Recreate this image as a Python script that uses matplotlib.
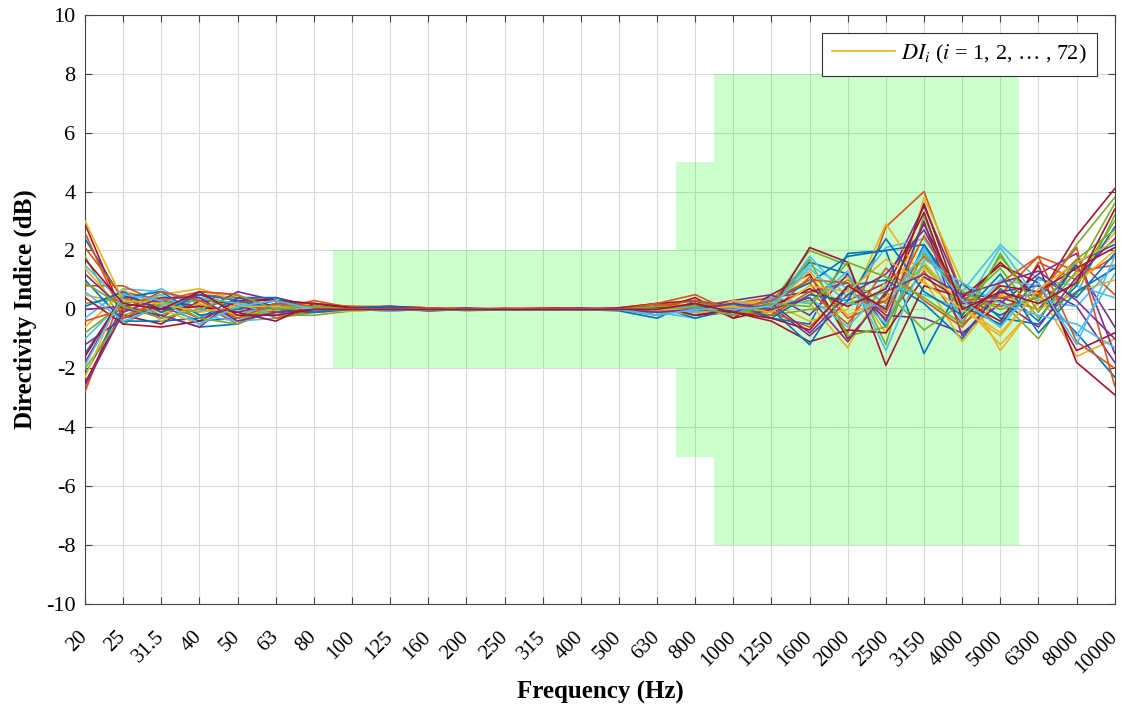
import matplotlib
matplotlib.use("Agg")
from matplotlib import pyplot as plt
from matplotlib import transforms

plt.rcParams['font.family'] = ['Liberation Serif', 'DejaVu Serif']
plt.rcParams['mathtext.fontset'] = 'stix'
plt.rcParams['axes.unicode_minus'] = False

freq_labels = ["20", "25", "31.5", "40", "50", "63", "80", "100", "125", "160", "200",
               "250", "315", "400", "500", "630", "800", "1000", "1250", "1600", "2000",
               "2500", "3150", "4000", "5000", "6300", "8000", "10000"]

# tolerance mask: band edges (in band index units) and half-heights in dB
mask_edges = [6.5, 15.5, 16.5, 24.5]
mask_limits = [2, 5, 8]

# directivity index curves (dB) (a representative subset of the 72)
di_curves = [
    [2.4, 0.3, 0.1, -0.4, -0.3, 0.1, 0.0, 0.05, 0.05, 0.0, 0.0, 0.02, 0.0, 0.05, 0.0, -0.1, 0.2, -0.1, 0.3, 1.6, 1.2, -0.6, 2.2, 0.4, -0.2, 0.5, -0.8, -2.3],
    [-2.8, 0.6, 0.3, 0.5, 0.4, 0.3, 0.2, 0.1, 0.1, 0.05, 0.0, 0.05, 0.0, 0.0, 0.05, 0.2, -0.1, 0.2, 0.4, 0.9, -0.8, 2.8, 4.0, 0.5, -0.6, 1.6, 1.0, 1.8],
    [0.5, 0.2, 0.4, 0.0, -0.2, 0.2, 0.0, -0.05, 0.0, 0.05, 0.0, 0.0, 0.05, 0.0, 0.0, 0.1, 0.3, 0.0, -0.2, 0.5, 1.1, -0.8, 3.8, 0.9, -1.4, 0.3, 1.2, 2.6],
    [-1.8, 0.5, -0.3, 0.6, 0.5, -0.2, 0.1, 0.0, -0.05, 0.0, 0.02, 0.0, 0.0, 0.05, 0.0, -0.2, 0.1, 0.2, 0.1, -0.9, 0.3, 0.9, 3.5, 0.5, 0.4, 0.0, 1.5, -0.6],
    [1.8, -0.5, 0.2, 0.1, 0.3, -0.3, -0.1, 0.1, 0.05, 0.05, -0.05, 0.0, 0.0, 0.0, 0.05, 0.1, 0.0, -0.2, 0.2, 2.0, 1.5, -1.2, 3.2, -0.2, 1.8, 0.2, 0.5, 3.2],
    [-0.3, 0.7, 0.6, 0.2, -0.4, 0.1, 0.2, 0.0, 0.0, -0.05, 0.0, 0.02, 0.0, 0.0, 0.0, -0.1, -0.3, 0.1, 0.0, 1.8, 0.4, 2.1, 2.4, 0.6, 2.2, 1.0, 0.8, 0.4],
    [2.9, -0.2, -0.5, 0.3, 0.2, 0.4, 0.1, 0.05, 0.1, 0.0, 0.0, 0.0, 0.05, 0.05, 0.0, 0.0, 0.4, -0.3, 0.5, 1.2, -1.0, 0.5, 2.9, 0.2, 1.6, 0.4, 2.5, 4.1],
    [-2.2, 0.1, -0.2, -0.6, -0.5, 0.2, -0.1, 0.0, 0.05, 0.0, 0.0, -0.02, 0.0, 0.0, -0.05, -0.3, 0.3, 0.1, -0.3, -0.5, 1.9, 2.0, -1.5, 0.9, -0.3, -0.5, 0.8, 2.8],
    [0.8, 0.8, 0.2, -0.3, 0.1, -0.1, 0.1, 0.1, 0.0, 0.05, 0.0, 0.02, 0.05, 0.0, 0.0, 0.2, 0.1, 0.3, -0.1, -0.6, 0.7, -0.3, 1.3, -0.5, 0.5, 1.8, 1.3, 1.5],
    [1.4, -0.1, 0.5, 0.7, 0.3, 0.0, 0.2, 0.05, 0.1, 0.05, 0.05, 0.0, 0.0, 0.05, 0.05, 0.1, -0.2, 0.2, 0.3, 0.2, -1.3, 1.0, 1.6, 0.1, -0.8, 0.6, -1.6, -1.0],
    [-1.2, -0.3, 0.1, -0.1, 0.6, 0.3, 0.0, 0.0, 0.0, 0.0, 0.0, 0.0, 0.0, 0.02, 0.0, -0.1, 0.2, -0.2, 0.4, 0.6, 0.9, -0.2, -0.3, -0.8, 0.2, 1.2, 1.9, -1.5],
    [0.2, 0.4, -0.2, 0.4, 0.0, -0.2, -0.2, -0.05, 0.0, 0.0, 0.0, 0.0, -0.02, 0.0, 0.0, 0.0, 0.0, 0.1, 0.1, 0.3, 1.0, 0.2, 1.5, 0.0, 0.3, -1.0, 1.0, 3.0],
    [-1.0, 0.3, 0.7, 0.0, -0.2, 0.2, 0.1, 0.0, 0.0, 0.02, 0.0, 0.0, 0.0, 0.0, 0.0, -0.1, -0.1, 0.2, 0.2, 1.5, 0.7, -0.5, 2.1, -0.4, 1.0, 0.8, -0.9, 1.2],
    [-2.5, 0.0, 0.0, 0.5, 0.1, -0.1, -0.1, 0.0, 0.05, -0.05, 0.0, 0.0, 0.02, 0.0, 0.0, 0.05, -0.2, -0.1, -0.4, -1.1, -0.7, -0.8, 1.1, 0.3, -0.4, 1.5, -1.8, -2.9],
    [1.0, -0.4, -0.4, -0.3, 0.4, 0.4, 0.0, 0.05, 0.0, 0.0, 0.0, 0.0, 0.0, 0.0, 0.0, 0.1, -0.3, 0.0, 0.0, -1.2, 0.8, 1.0, 0.2, -1.0, 0.7, -0.4, 1.6, 2.2],
    [2.1, 0.4, -0.1, 0.2, -0.5, 0.0, 0.3, 0.05, 0.0, 0.0, 0.0, 0.0, 0.0, 0.0, 0.0, 0.0, 0.2, 0.0, -0.1, 1.1, -0.3, 0.3, 1.8, 0.6, 0.1, 0.4, 1.7, 0.5],
    [-0.6, 0.6, 0.0, -0.5, 0.2, 0.1, -0.1, -0.05, 0.05, 0.0, 0.0, 0.0, 0.0, 0.02, 0.0, 0.0, 0.0, -0.2, 0.2, -0.4, 0.0, 2.9, 1.0, -1.1, 0.5, 0.0, 0.6, 1.0],
    [0.0, 0.1, 0.3, 0.1, -0.1, 0.2, 0.1, 0.0, 0.0, 0.0, 0.05, 0.0, 0.0, 0.0, 0.05, 0.1, 0.0, 0.3, 0.5, -0.2, 1.2, -0.4, 3.0, -0.9, 0.6, 0.8, 0.1, -1.8],
    [-2.0, -0.2, 0.2, 0.3, -0.3, -0.1, 0.1, 0.0, 0.0, 0.0, 0.0, 0.0, 0.0, 0.0, 0.0, -0.2, 0.1, 0.0, -0.2, 0.0, 0.2, 0.6, -0.7, 0.2, 1.4, -0.3, 1.3, 3.6],
    [1.5, 0.2, 0.5, -0.2, -0.4, -0.3, 0.0, 0.0, -0.05, 0.0, 0.0, 0.0, 0.0, 0.0, 0.0, 0.0, -0.1, 0.1, 0.1, 0.4, -0.6, 0.8, 0.5, 0.0, 2.1, 0.3, 0.1, 1.5],
    [0.4, -0.5, -0.6, -0.4, 0.3, 0.3, 0.2, 0.05, 0.1, 0.05, 0.0, 0.02, 0.0, 0.0, 0.05, 0.2, 0.3, -0.3, 0.0, 2.1, 1.6, -1.9, 0.8, 0.4, 1.5, 0.9, -1.4, -0.8],
    [-1.5, 0.4, 0.6, -0.2, 0.0, 0.3, -0.1, 0.05, 0.1, 0.0, 0.0, 0.0, 0.0, 0.0, 0.0, -0.1, 0.1, 0.0, 0.3, 0.9, 1.8, 2.0, 2.2, 0.1, -0.5, 1.1, 0.4, 1.9],
    [2.6, -0.3, 0.3, 0.6, 0.5, -0.3, 0.0, 0.0, 0.0, 0.05, 0.0, 0.0, 0.0, 0.0, 0.0, 0.2, 0.5, -0.1, -0.2, 0.6, -0.5, 1.4, 0.3, -0.6, 0.9, 1.8, -1.1, -2.0],
    [-2.3, 0.7, -0.4, 0.2, -0.2, 0.0, 0.1, -0.05, 0.0, 0.0, 0.0, 0.0, 0.0, 0.0, 0.0, 0.0, -0.2, 0.3, 0.1, 1.3, -0.2, 0.4, 1.4, 0.2, -1.2, 0.2, 0.9, 2.0],
    [1.2, 0.0, -0.2, -0.6, 0.4, 0.1, 0.0, 0.0, 0.05, 0.0, 0.0, 0.0, 0.0, 0.05, 0.0, 0.1, 0.0, -0.1, 0.2, -0.8, 0.5, 1.2, 2.7, 0.2, 0.3, -0.6, 1.1, 2.4],
    [-0.8, 0.2, 0.4, -0.3, -0.5, 0.2, 0.0, 0.0, 0.0, 0.0, 0.0, 0.02, 0.0, 0.0, 0.0, -0.1, 0.2, 0.1, 0.0, 1.7, -0.9, -0.6, 1.9, 0.6, 0.0, 0.4, 2.2, 3.8],
    [0.6, -0.4, 0.1, 0.4, 0.2, -0.2, 0.1, 0.0, 0.0, 0.0, 0.0, 0.0, 0.0, 0.0, 0.0, 0.0, 0.1, -0.2, 0.4, 0.2, 1.3, -1.4, 1.7, 0.9, 0.2, -0.2, -0.5, -1.3],
    [-1.6, 0.5, 0.0, 0.1, -0.1, -0.4, 0.2, 0.05, 0.0, 0.0, 0.0, 0.0, 0.0, 0.0, 0.0, 0.1, -0.2, 0.0, 0.1, 0.7, 0.1, 0.7, 3.3, -0.3, 0.8, 0.6, 1.4, 2.1],
    [0.1, 0.6, -0.1, 0.5, 0.3, 0.0, -0.1, 0.0, 0.0, 0.0, 0.0, 0.0, 0.0, 0.0, 0.0, 0.0, 0.0, 0.2, -0.3, 0.5, 0.3, 2.4, 0.6, -0.2, 1.2, -0.8, 0.6, 1.4],
    [-0.4, 0.0, 0.6, 0.3, -0.3, 0.2, 0.1, 0.0, 0.0, 0.0, 0.0, 0.0, 0.0, 0.0, 0.0, 0.1, 0.3, 0.0, 0.3, 1.0, 0.9, -0.1, 2.5, 0.3, 0.4, 0.5, 2.1, -2.6],
    [3.0, 0.3, 0.2, -0.1, 0.1, 0.1, 0.0, 0.0, 0.0, 0.0, 0.0, 0.0, 0.0, 0.0, 0.0, 0.0, 0.0, 0.1, -0.1, 0.8, 0.6, 1.7, 0.9, 0.0, -0.9, 0.7, 1.6, 2.3],
    [-2.6, -0.1, 0.4, 0.4, -0.4, -0.1, 0.0, 0.0, 0.0, 0.0, 0.0, 0.0, 0.0, 0.0, 0.0, -0.1, 0.0, 0.2, 0.0, 0.4, -1.1, 0.6, 1.2, 0.5, 0.9, 1.3, 0.3, -1.0],
    [0.9, 0.1, -0.3, 0.0, 0.5, 0.0, 0.1, 0.0, 0.0, 0.0, 0.0, 0.0, 0.0, 0.0, 0.0, 0.1, 0.1, -0.2, 0.2, 0.1, 1.6, 1.1, 0.4, -0.5, 1.9, -0.1, 1.7, 2.7],
    [-1.9, 0.5, 0.3, -0.5, 0.1, 0.3, 0.0, 0.0, 0.0, 0.0, 0.0, 0.0, 0.0, 0.0, 0.0, -0.2, 0.0, 0.0, 0.1, 1.4, 0.2, 0.1, 2.0, 0.3, -0.6, 0.9, -1.2, 1.8],
    [1.7, 0.2, 0.0, 0.6, -0.2, -0.2, 0.0, 0.0, 0.0, 0.0, 0.0, 0.0, 0.0, 0.0, 0.0, 0.0, 0.2, -0.1, -0.3, -0.7, 0.8, 0.0, 3.6, 0.0, 0.6, 0.2, 0.9, 3.4],
]

matlab_colors = ["#0072BD", "#D95319", "#EDB120", "#7E2F8E", "#77AC30", "#4DBEEE", "#A2142F"]

fig = plt.figure(figsize=(11.34, 7.12), dpi=100)
ax = fig.add_axes([0.075, 0.152, 0.908, 0.827])

x = list(range(len(freq_labels)))

for i in range(len(mask_limits)):
    ax.fill_between([mask_edges[i], mask_edges[i + 1]], -mask_limits[i], mask_limits[i],
                    color="#00ff00", alpha=0.2, linewidth=0, zorder=2)

for k, curve in enumerate(di_curves):
    ax.plot(x, curve, color=matlab_colors[k % 7], linewidth=1.2, zorder=3)

ax.plot([], [], color="#EDB120", linewidth=1.2,
        label=r"$DI_i$ ($i$ = 1, 2, … , 72)")

ax.set_xlim(0, len(freq_labels) - 1)
ax.set_ylim(-10, 10)
ax.set_yticks(range(-10, 11, 2))
ax.set_xticks(x)
ax.set_xticklabels(freq_labels, rotation=45, fontsize=15, ha="right", va="center",
                   rotation_mode="anchor")
shift = transforms.ScaledTranslation(-0.05, 0, fig.dpi_scale_trans)
for lab in ax.get_xticklabels():
    lab.set_transform(lab.get_transform() + shift)
ax.tick_params(axis="y", labelsize=16, pad=7)
ax.tick_params(axis="x", pad=22)
ax.tick_params(direction="in", top=True, right=True, length=5, color="#444444")
ax.grid(True, color="#d9d9d9", linewidth=0.8, zorder=1)
ax.set_axisbelow(True)
for s in ax.spines.values():
    s.set_color("#444444")

ax.set_xlabel("Frequency (Hz)", fontsize=18, fontweight="bold", labelpad=2)
ax.set_ylabel("Directivity Indice (dB)", fontsize=18, fontweight="bold", labelpad=6)

leg = ax.legend(loc="upper right", fontsize=16, fancybox=False, framealpha=1,
                edgecolor="#333333", handlelength=2.8, handletextpad=0.3,
                borderaxespad=0.8, borderpad=0.45)
leg.get_frame().set_linewidth(0.8)

fig.savefig("out.png", dpi=100)
